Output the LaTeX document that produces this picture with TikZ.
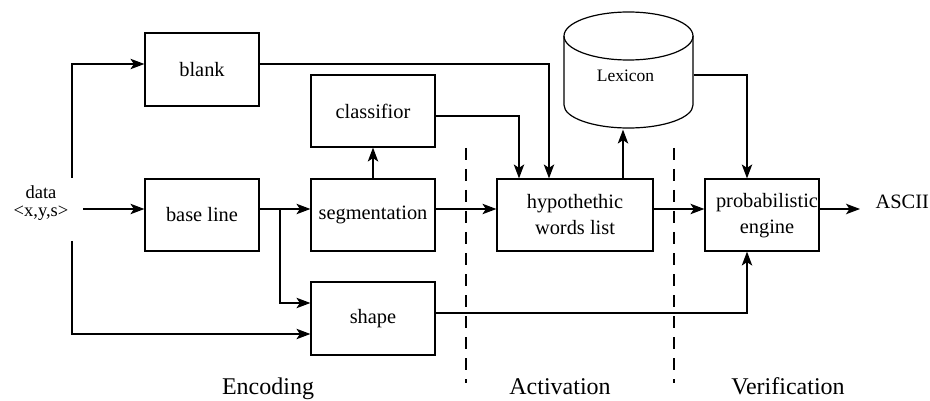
\documentclass[tikz,border=0pt]{standalone}
\usepackage{fontspec}
\setmainfont{Liberation Serif}
\usetikzlibrary{arrows.meta}
\begin{document}
\begin{tikzpicture}[x=1pt,y=-1pt,
  line width=1.2pt,
  box/.style={draw,rectangle,inner sep=0pt,align=center,
    font=\fontsize{20.4}{26}\selectfont},
  arr/.style={-{Stealth[length=14pt,width=10.5pt,inset=3.5pt]}},
  phase/.style={font=\fontsize{24}{28}\selectfont,anchor=base},
  divider/.style={dash pattern=on 12pt off 9pt}]
\useasboundingbox (0,0) rectangle (930,401);

% processing blocks
\node[box,minimum width=114pt,minimum height=73pt] (blank) at (202,69.5) {blank};
\node[box,minimum width=124pt,minimum height=72pt] (cls) at (373,111) {classifior};
\node[box,minimum width=114pt,minimum height=72pt] (bl) at (202,215) {base line};
\node[box,minimum width=124pt,minimum height=72pt] (seg) at (373,215) {segmentation};
\node[box,minimum width=124pt,minimum height=73pt] (shape) at (373,318.5) {shape};
\node[box,minimum width=156pt,minimum height=72pt] (hypo) at (575,215) {hypothethic\\words list};
\node[box,minimum width=114pt,minimum height=72pt] (prob) at (762,215) {};
\node[align=center,inner sep=0pt,font=\fontsize{20.4}{26}\selectfont] (probtxt) at (767,216) {probabilistic\\engine};

% lexicon store: top ellipse, sides and lower half of the bottom rim
\draw (628.5,36) ellipse [x radius=64.5pt, y radius=24pt];
\draw (564,36) -- (564,105)
  .. controls (564,117.7) and (592.9,128) .. (628.5,128)
  .. controls (664.1,128) and (693,117.7) .. (693,105) -- (693,36);
\node[inner sep=0pt,minimum width=129pt,minimum height=117pt] (lex) at (628.5,70.5) {};
\node[inner sep=0pt,font=\fontsize{17.5}{20}\selectfont] (lextxt) at (625.5,76) {Lexicon};

% input and output
\node[align=center,inner sep=0pt,font=\fontsize{18.5}{17.5}\selectfont] (data) at (41,203) {data\\<x,y,s>};
\node[anchor=base west,inner sep=0pt,font=\fontsize{20.4}{24}\selectfont] (ascii) at (875,208) {ASCII};

\coordinate (dright) at (83,209);
\coordinate (dup) at (72,178);
\coordinate (ddown) at (72,241);
\coordinate (br) at (280,209);

% connectors
\draw[arr] (dright) -- ([yshift=6pt]bl.west);
\draw[arr] (dup) |- ([yshift=5.5pt]blank.west);
\draw[arr] (ddown) |- ([yshift=-15.5pt]shape.west);
\draw[arr] ([yshift=6pt]bl.east) -- ([yshift=6pt]seg.west);
\draw[arr] (br) |- ([yshift=15.5pt]shape.west);
\draw[arr] (seg.north) -- (cls.south);
\draw[arr] ([yshift=5.5pt]blank.east) -| ([xshift=-26pt]hypo.north);
\draw[arr] ([yshift=-5pt]cls.east) -| ([xshift=-56pt]hypo.north);
\draw[arr] ([yshift=6pt]seg.east) -- ([yshift=6pt]hypo.west);
\draw[arr] ([xshift=48pt]hypo.north) -- ([xshift=-5.5pt]lex.south);
\draw[arr] ([yshift=-4.5pt]lex.east) -| ([xshift=-15pt]prob.north);
\draw[arr] ([yshift=6pt]hypo.east) -- ([yshift=6pt]prob.west);
\draw[arr] ([yshift=6pt]prob.east) -- ([xshift=-15pt,yshift=-1pt]ascii.base west);
\draw[arr] ([yshift=5.5pt]shape.east) -| ([xshift=-15pt]prob.south);

% phase dividers
\draw[divider] (466,148) -- (466,383);
\draw[divider] (674,148) -- (674,383);

% phase labels
\node[phase] (enc) at (268,394) {Encoding};
\node[phase] (act) at (560,394) {Activation};
\node[phase] (ver) at (788,394) {Verification};
\end{tikzpicture}
\end{document}
